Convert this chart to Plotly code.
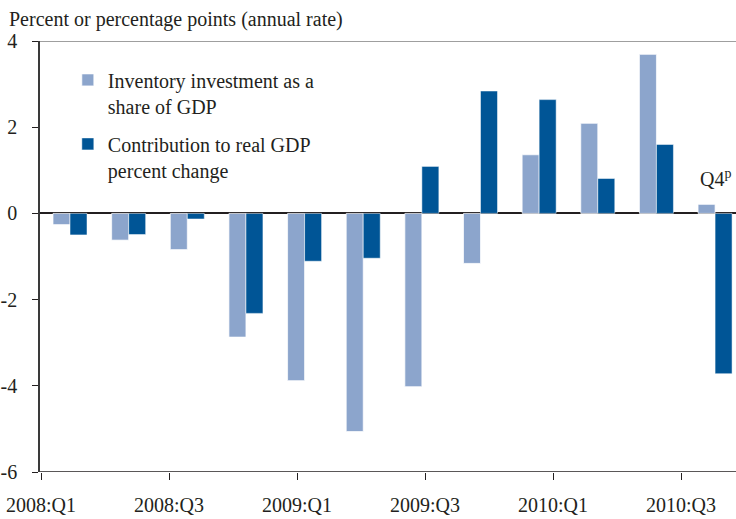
import plotly.graph_objects as go

quarters = ["2008:Q1", "2008:Q2", "2008:Q3", "2008:Q4",
            "2009:Q1", "2009:Q2", "2009:Q3", "2009:Q4",
            "2010:Q1", "2010:Q2", "2010:Q3", "2010:Q4"]
inventory_share = [-0.26, -0.62, -0.84, -2.87, -3.88, -5.06, -4.02, -1.16, 1.36, 2.09, 3.69, 0.21]
gdp_contribution = [-0.50, -0.49, -0.13, -2.32, -1.11, -1.04, 1.09, 2.84, 2.64, 0.81, 1.60, -3.72]
tick_labels = ["2008:Q1", "2008:Q3", "2009:Q1", "2009:Q3", "2010:Q1", "2010:Q3"]

LIGHT = "#8CA5CC"
DARK = "#005596"
FONT = "Liberation Serif"
TXT = "#231F20"
FS = 20

xpos = list(range(len(quarters)))
# tick marks in the original sit slightly off the bar groups
tick_step = 2.183
tickvals = [-0.495 + tick_step * i for i in range(len(tick_labels))]

fig = go.Figure()
fig.add_trace(go.Bar(
    x=xpos, y=inventory_share, name="Inventory investment as a<br>share of GDP",
    marker=dict(color=LIGHT, line=dict(color="rgba(255,255,255,0.7)", width=1)),
    legendgroup="a",
))
fig.add_trace(go.Bar(
    x=xpos, y=gdp_contribution, name="Contribution to real GDP<br>percent change",
    marker=dict(color=DARK, line=dict(color="rgba(255,255,255,0.5)", width=1)),
    legendgroup="b",
))

fig.update_layout(
    width=736, height=519,
    margin=dict(l=40, r=0, t=41, b=47, autoexpand=False),
    paper_bgcolor="white", plot_bgcolor="white",
    font=dict(family=FONT, size=FS, color=TXT),
    barmode="group", bargap=0.42, bargroupgap=0,
    showlegend=True,
    legend=dict(x=0.040, y=0.955, xanchor="left", yanchor="top",
                bgcolor="rgba(0,0,0,0)", valign="top",
                tracegroupgap=9, itemwidth=30,
                font=dict(family=FONT, size=FS, color=TXT)),
    xaxis=dict(
        automargin=False,
        range=[-0.512, 11.357], tickmode="array", tickvals=tickvals, ticktext=tick_labels,
        ticks="outside", ticklen=7, tickcolor=TXT, tickwidth=1,
        ticklabelstandoff=8,
        showgrid=False, zeroline=False, showline=False,
        tickfont=dict(family=FONT, size=FS, color=TXT),
    ),
    yaxis=dict(
        automargin=False,
        range=[-6, 4], tickvals=[-6, -4, -2, 0, 2, 4], ticktext=["-6", "-4", "-2", "0", "2", "4"],
        ticks="outside", ticklen=6, tickcolor=TXT, tickwidth=1,
        ticklabelstandoff=11,
        showline=True, linecolor="#3A3A3A", linewidth=1.5,
        showgrid=False, zeroline=True, zerolinecolor=TXT, zerolinewidth=1.5,
        tickfont=dict(family=FONT, size=FS, color=TXT),
    ),
    shapes=[
        dict(type="line", xref="paper", yref="y", x0=0, x1=1, y0=4, y1=4,
             line=dict(color="#7F7F7F", width=1.5)),
        dict(type="line", xref="paper", yref="y", x0=0, x1=1, y0=-6, y1=-6,
             line=dict(color=TXT, width=1.5)),
    ],
    annotations=[
        dict(text="Percent or percentage points (annual rate)", xref="paper", yref="paper",
             x=-0.047, y=1.0, yshift=35, xanchor="left", yanchor="top", showarrow=False,
             font=dict(family=FONT, size=FS, color=TXT)),
        dict(text="Q4<sup>p</sup>", xref="x", yref="y", x=11, y=0.5,
             xanchor="center", yanchor="bottom", showarrow=False,
             font=dict(family=FONT, size=FS, color=TXT)),
    ],
)

fig.write_html("out.html", config={"displayModeBar": False},
               post_script="document.body.style.margin='0';")
